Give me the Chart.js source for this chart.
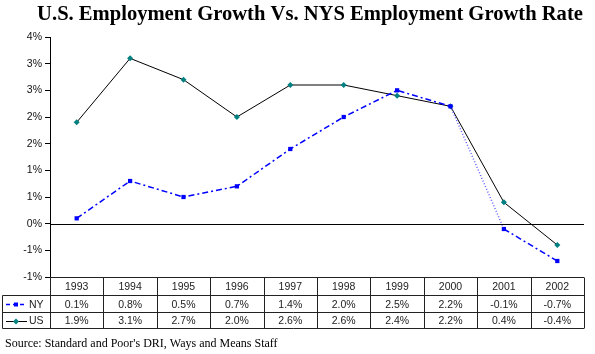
<!DOCTYPE html>
<html>
<head>
<meta charset="utf-8">
<script src="https://cdn.jsdelivr.net/npm/chart.js@4.4.0/dist/chart.umd.min.js"></script>
<style>
  html, body { margin: 0; padding: 0; background: #fff; }
  #wrap { width: 595px; height: 354px; position: relative; }
</style>
</head>
<body>
<div id="wrap"><canvas id="chart" width="595" height="354"></canvas></div>
<script>
const years = ['1993', '1994', '1995', '1996', '1997', '1998', '1999', '2000', '2001', '2002'];
const nyGrowth = [0.1, 0.8, 0.5, 0.7, 1.4, 2.0, 2.5, 2.2, -0.1, -0.7];
const usGrowth = [1.9, 3.1, 2.7, 2.0, 2.6, 2.6, 2.4, 2.2, 0.4, -0.4];
const titleText = 'U.S. Employment Growth Vs. NYS Employment Growth Rate';
const sourceText = "Source: Standard and Poor's DRI, Ways and Means Staff";

// excel style rounding, -0.5 shows as -1%
function pct0(v) {
    return (Math.sign(v) * Math.round(Math.abs(v))).toFixed(0).replace('-0', '0') + '%';
}

const tablePlugin = {
    id: 'tablePlugin',
    afterDraw(chart) {
        const ctx = chart.ctx;
        const x = chart.scales.x;
        const y = chart.scales.y;
        const area = chart.chartArea;
        ctx.save();

        // zero line
        ctx.strokeStyle = '#000';
        ctx.lineWidth = 1;
        const y0 = Math.round(y.getPixelForValue(0)) + 0.5;
        ctx.beginPath();
        ctx.moveTo(area.left, y0);
        ctx.lineTo(area.right, y0);
        ctx.stroke();

        // title
        ctx.save();
        ctx.fillStyle = '#000';
        ctx.font = 'bold 21px "Liberation Serif", "Times New Roman", serif';
        ctx.textAlign = 'center';
        ctx.textBaseline = 'middle';
        ctx.translate(310, 15);
        ctx.scale(0.98, 1);
        ctx.fillText(titleText, 0, 0);
        ctx.restore();

        // table
        const top = Math.round(area.bottom) + 0.5;
        const r1 = top + 18;
        const r2 = r1 + 17;
        const r3 = r2 + 16;
        const colW = (area.right - area.left) / years.length;
        ctx.strokeStyle = '#222';
        ctx.beginPath();
        ctx.moveTo(area.left, top); ctx.lineTo(area.right, top);
        ctx.moveTo(2.5, r1); ctx.lineTo(area.right, r1);
        ctx.moveTo(2.5, r2); ctx.lineTo(area.right, r2);
        ctx.moveTo(2.5, r3); ctx.lineTo(area.right, r3);
        ctx.moveTo(2.5, r1); ctx.lineTo(2.5, r3);
        for (let i = 0; i <= years.length; i++) {
            const cx = Math.round(area.left + i * colW) + 0.5;
            ctx.moveTo(cx, top); ctx.lineTo(cx, r3);
        }
        ctx.stroke();

        ctx.font = '10.5px "Liberation Sans", Arial, sans-serif';
        ctx.fillStyle = '#222';
        ctx.textAlign = 'center';
        ctx.textBaseline = 'middle';
        years.forEach((yr, i) => {
            const cx = x.getPixelForValue(i);
            ctx.fillText(yr, cx, (top + r1) / 2 + 1);
            ctx.fillText(nyGrowth[i].toFixed(1) + '%', cx, (r1 + r2) / 2 + 1);
            ctx.fillText(usGrowth[i].toFixed(1) + '%', cx, (r2 + r3) / 2 + 1);
        });

        // legend keys
        const ky1 = Math.round((r1 + r2) / 2) + 0.5;
        const ky2 = Math.round((r2 + r3) / 2) + 0.5;
        ctx.strokeStyle = '#0000ff';
        ctx.lineWidth = 1.5;
        ctx.setLineDash([4, 3]);
        ctx.beginPath(); ctx.moveTo(6, ky1); ctx.lineTo(27, ky1); ctx.stroke();
        ctx.setLineDash([]);
        ctx.fillStyle = '#0000ff';
        ctx.fillRect(14, ky1 - 2, 4, 4);
        ctx.strokeStyle = '#000';
        ctx.lineWidth = 1;
        ctx.beginPath(); ctx.moveTo(6, ky2); ctx.lineTo(27, ky2); ctx.stroke();
        ctx.fillStyle = '#008080';
        ctx.beginPath();
        ctx.moveTo(16, ky2 - 3); ctx.lineTo(19, ky2); ctx.lineTo(16, ky2 + 3); ctx.lineTo(13, ky2);
        ctx.closePath(); ctx.fill();
        ctx.fillStyle = '#222';
        ctx.textAlign = 'left';
        ctx.fillText('NY', 29, (r1 + r2) / 2 + 1);
        ctx.fillText('US', 29, (r2 + r3) / 2 + 1);

        // source
        ctx.fillStyle = '#000';
        ctx.font = '12px "Liberation Serif", "Times New Roman", serif';
        ctx.textBaseline = 'alphabetic';
        ctx.fillText(sourceText, 5, 347);
        ctx.restore();
    }
};

new Chart(document.getElementById('chart').getContext('2d'), {
    type: 'line',
    data: {
        labels: years,
        datasets: [{
            label: 'NY',
            data: nyGrowth,
            borderColor: '#0000ff',
            backgroundColor: '#0000ff',
            borderWidth: 1.5,
            borderDash: [6, 3, 2, 3],
            pointStyle: 'rect',
            pointRadius: 3,
            pointBorderWidth: 0,
            tension: 0,
            segment: {
                borderDash: c => c.p0DataIndex === 7 ? [1, 2] : undefined,
                borderColor: c => c.p0DataIndex === 7 ? '#5a5aff' : undefined
            }
        }, {
            label: 'US',
            data: usGrowth,
            borderColor: '#000',
            backgroundColor: '#008080',
            borderWidth: 1,
            pointStyle: 'rectRot',
            pointRadius: 3,
            pointBorderColor: '#008080',
            pointBorderWidth: 0,
            tension: 0
        }]
    },
    options: {
        responsive: false,
        animation: false,
        layout: { padding: { left: 0, right: 11, top: 37, bottom: 77 } },
        plugins: {
            legend: { display: false },
            title: { display: false },
            tooltip: { enabled: false }
        },
        scales: {
            x: {
                display: false,
                offset: true
            },
            y: {
                min: -1,
                max: 3.5,
                afterFit: s => { s.width = 50; },
                border: { display: true, color: '#000', width: 1 },
                grid: { drawOnChartArea: false, color: '#000', tickLength: 5 },
                ticks: {
                    stepSize: 0.5,
                    padding: 3,
                    color: '#111',
                    font: { family: '"Liberation Sans", Arial, sans-serif', size: 10.5 },
                    callback: v => pct0(v)
                }
            }
        }
    },
    plugins: [tablePlugin]
});
</script>
</body>
</html>
